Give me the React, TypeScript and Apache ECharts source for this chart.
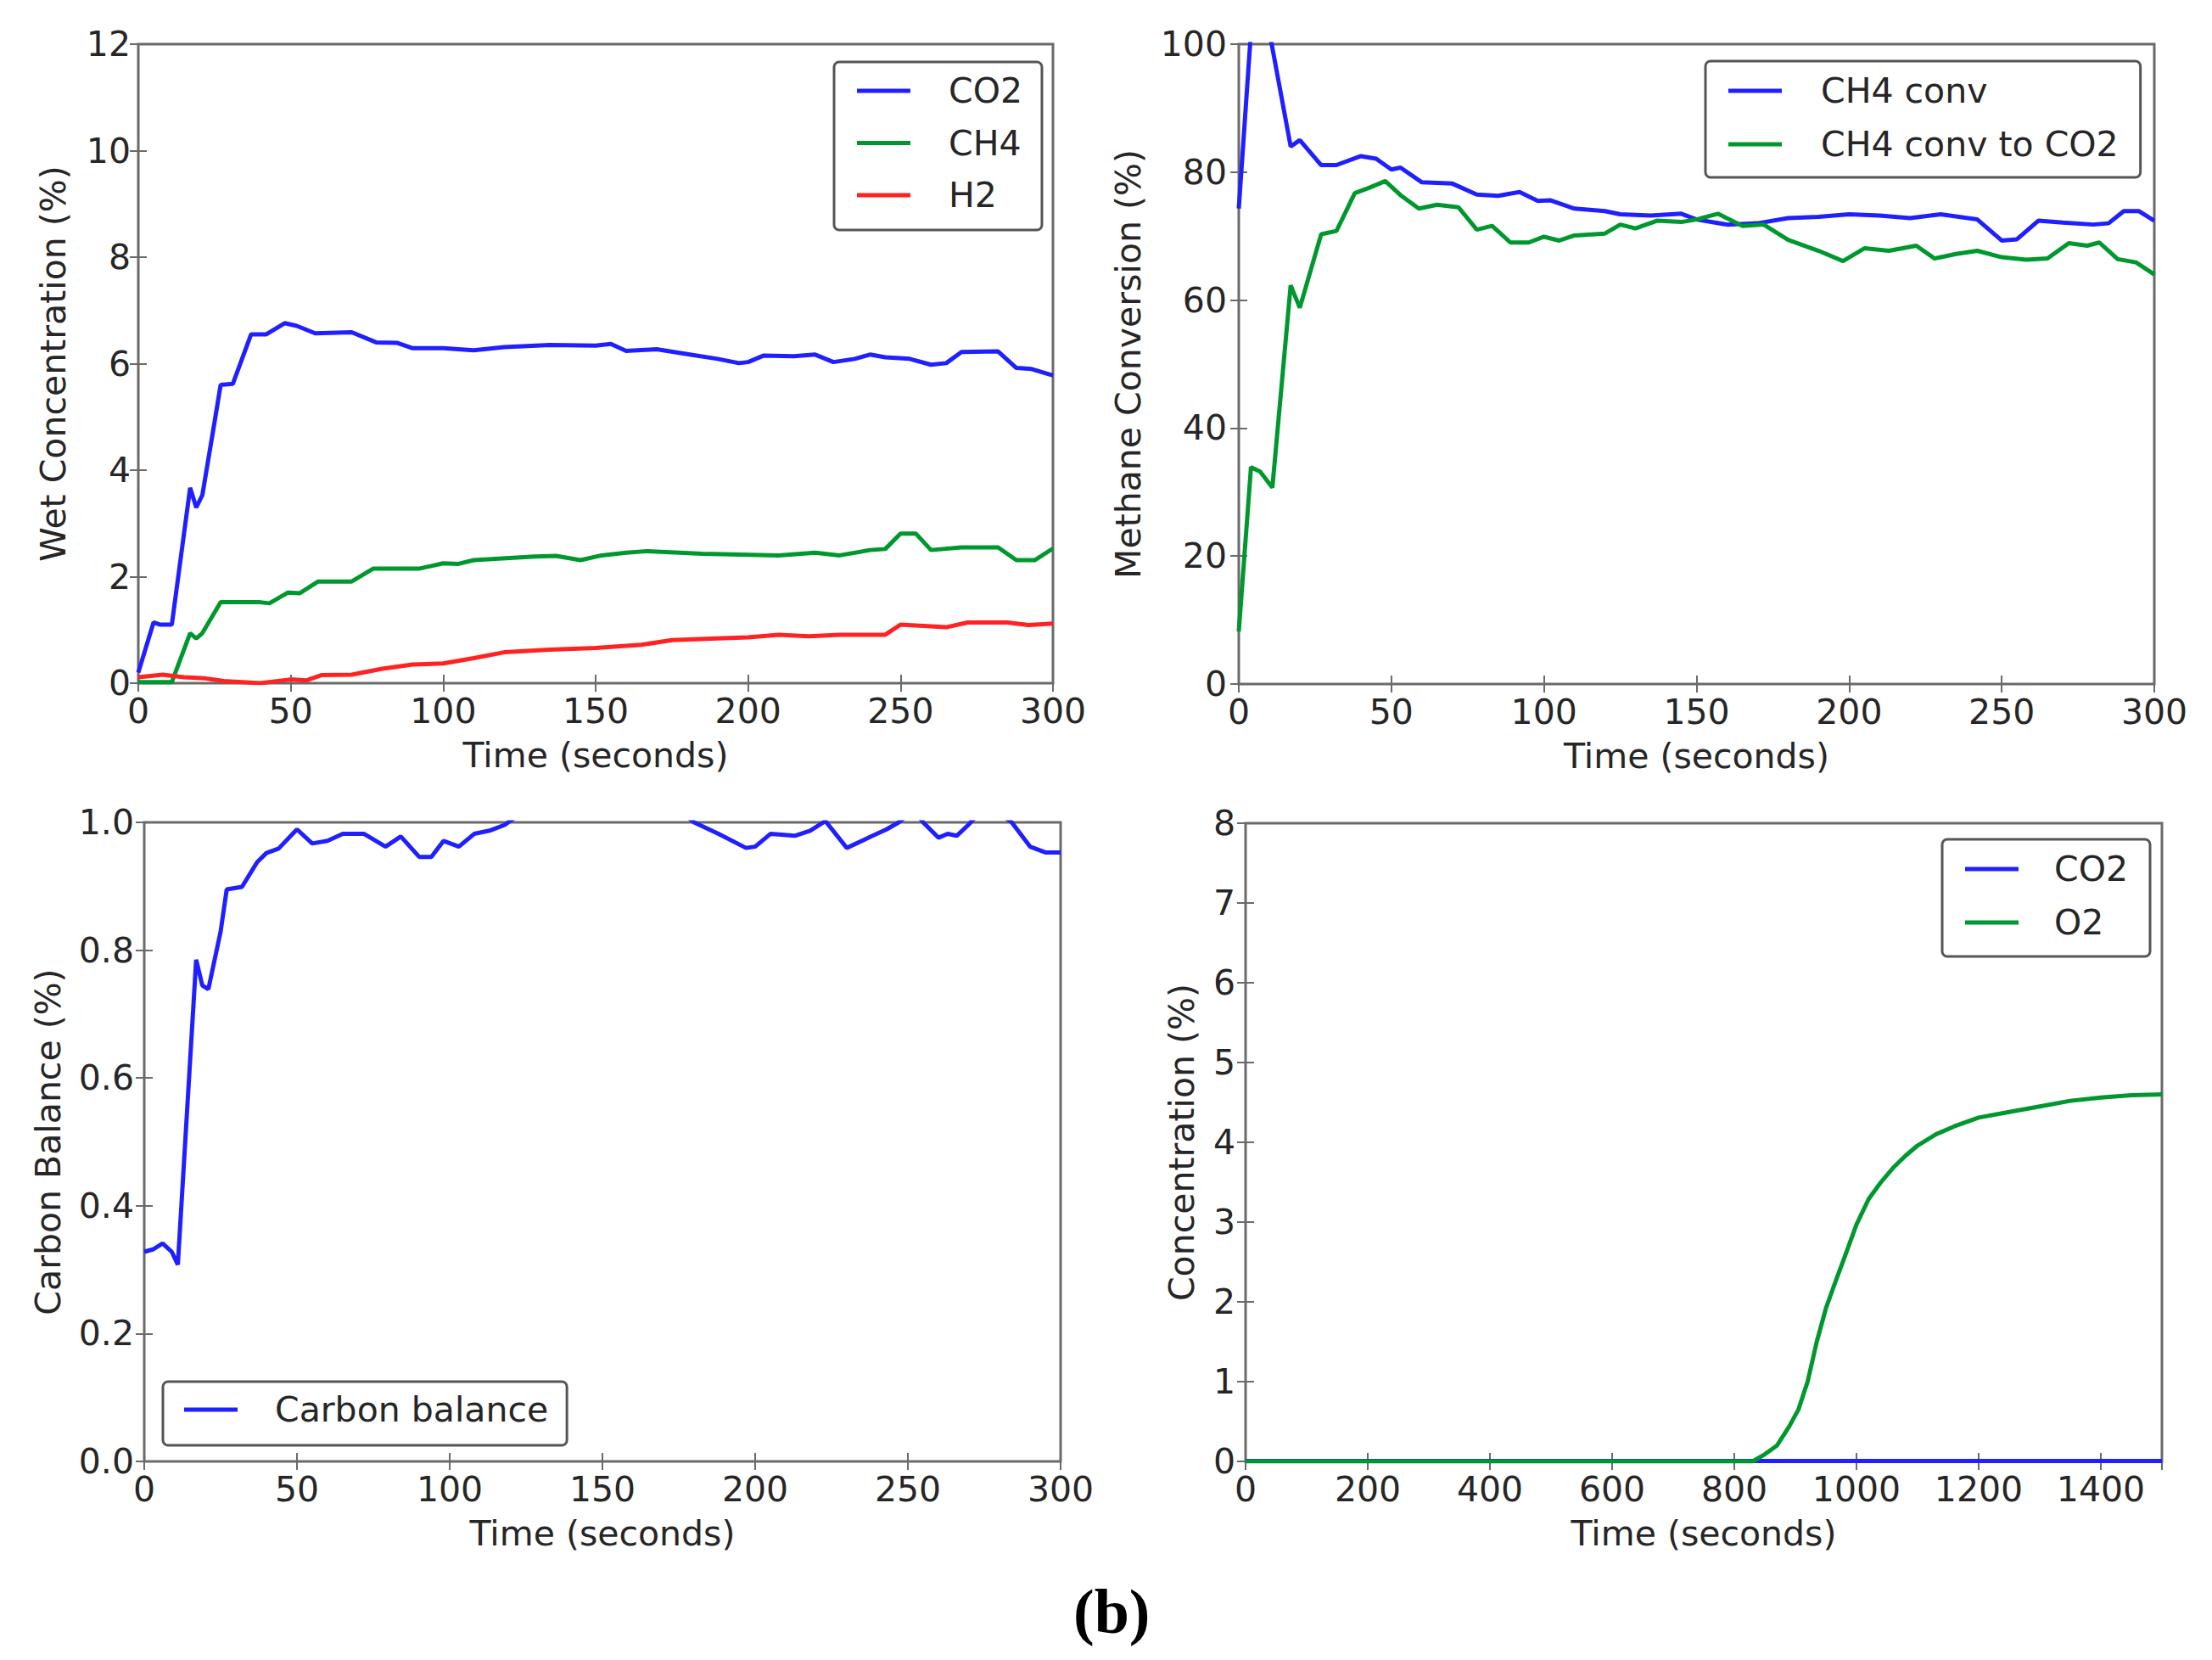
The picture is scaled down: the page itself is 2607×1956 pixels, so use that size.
import React, { useEffect, useRef } from "react";
import * as echarts from "echarts";

const FONT = "DejaVu Sans";
const BLUE = "#1f1fff";
const GREEN = "#00982e";
const RED = "#ff2222";
const FRAME = "#6a6a6a";
const TEXT = "#262626";

// ---- Panel 1: wet concentration ----
const co2Time = [0, 5, 7, 11, 17, 19, 21, 25, 27, 31, 37, 42, 48, 52, 58, 70, 78, 85, 90, 100, 110, 120, 135, 150, 155, 160, 170, 180, 190, 197, 200, 205, 215, 222, 228, 235, 240, 245, 253, 260, 265, 270, 282, 288, 293, 300];
const co2Wet = [0.2, 1.14, 1.1, 1.1, 3.67, 3.3, 3.53, 4.9, 5.6, 5.62, 6.55, 6.55, 6.76, 6.71, 6.57, 6.59, 6.4, 6.39, 6.29, 6.29, 6.25, 6.31, 6.35, 6.34, 6.37, 6.24, 6.27, 6.18, 6.09, 6.01, 6.03, 6.15, 6.14, 6.17, 6.03, 6.09, 6.17, 6.12, 6.09, 5.98, 6.01, 6.22, 6.23, 5.92, 5.9, 5.78];
const ch4Time = [0, 11, 17, 19, 21, 27, 40, 43, 49, 53, 59, 70, 77, 92, 100, 105, 110, 130, 137, 145, 152, 160, 167, 185, 210, 222, 230, 240, 245, 250, 255, 260, 270, 282, 288, 294, 300];
const ch4Wet = [0.02, 0.02, 0.94, 0.84, 0.94, 1.52, 1.52, 1.5, 1.7, 1.69, 1.91, 1.91, 2.15, 2.15, 2.25, 2.24, 2.31, 2.38, 2.39, 2.31, 2.4, 2.45, 2.48, 2.43, 2.4, 2.45, 2.4, 2.5, 2.52, 2.81, 2.81, 2.5, 2.55, 2.55, 2.31, 2.31, 2.53];
const h2Time = [0, 8, 15, 22, 28, 40, 50, 55, 60, 70, 80, 90, 100, 110, 120, 135, 150, 165, 175, 190, 200, 210, 220, 230, 245, 250, 265, 272, 285, 292, 300];
const h2Wet = [0.11, 0.16, 0.11, 0.09, 0.04, 0.0, 0.07, 0.05, 0.15, 0.16, 0.27, 0.35, 0.37, 0.47, 0.58, 0.63, 0.66, 0.72, 0.81, 0.84, 0.86, 0.91, 0.88, 0.91, 0.91, 1.1, 1.05, 1.14, 1.14, 1.09, 1.12];

// ---- Panel 2: methane conversion ----
const convTime = [0, 4, 10, 17, 20, 27, 32, 40, 45, 50, 53, 60, 70, 78, 85, 92, 98, 102, 110, 120, 125, 135, 145, 150, 160, 170, 180, 190, 200, 210, 220, 230, 242, 250, 255, 262, 270, 280, 285, 290, 295, 300];
const ch4Conv = [74.3, 102, 102, 84, 85, 81.1, 81.1, 82.5, 82.1, 80.4, 80.7, 78.4, 78.2, 76.5, 76.3, 76.9, 75.5, 75.6, 74.3, 73.9, 73.4, 73.2, 73.5, 72.6, 71.8, 72, 72.8, 73, 73.4, 73.2, 72.8, 73.4, 72.6, 69.3, 69.5, 72.4, 72.1, 71.8, 72, 73.9, 73.9, 72.4];
const conv2Time = [0, 4, 7, 11, 17, 20, 27, 32, 38, 43, 48, 53, 59, 65, 72, 78, 83, 89, 95, 100, 105, 110, 120, 125, 130, 137, 145, 150, 157, 165, 172, 180, 190, 198, 205, 213, 222, 228, 235, 242, 250, 258, 265, 272, 278, 282, 288, 294, 300];
const ch4ConvCo2 = [8.2, 33.9, 33.2, 30.7, 62.3, 58.8, 70.3, 70.8, 76.7, 77.6, 78.6, 76.4, 74.3, 74.9, 74.5, 71, 71.6, 69, 69, 69.9, 69.3, 70.1, 70.4, 71.8, 71.2, 72.4, 72.2, 72.6, 73.5, 71.6, 71.8, 69.4, 67.7, 66.1, 68.1, 67.7, 68.5, 66.5, 67.2, 67.7, 66.7, 66.3, 66.5, 68.9, 68.5, 69, 66.4, 65.9, 64];

// ---- Panel 3: carbon balance ----
const cbTime = [0, 3, 6, 9, 11, 17, 19, 21, 25, 27, 32, 37, 40, 44, 50, 55, 60, 65, 72, 79, 84, 90, 94, 98, 103, 108, 113, 118, 125, 150, 175, 180, 188, 197, 200, 205, 213, 218, 223, 230, 238, 243, 247, 252, 255, 260, 263, 266, 270, 276, 284, 290, 295, 300];
const carbonBalance = [0.328, 0.332, 0.341, 0.328, 0.308, 0.785, 0.745, 0.739, 0.829, 0.895, 0.899, 0.938, 0.952, 0.959, 0.989, 0.967, 0.971, 0.982, 0.982, 0.962, 0.978, 0.946, 0.946, 0.971, 0.962, 0.982, 0.987, 0.996, 1.02, 1.04, 1.02, 1.0, 0.982, 0.96, 0.962, 0.982, 0.979, 0.987, 1.002, 0.96, 0.978, 0.989, 1.0, 1.02, 1.0, 0.976, 0.982, 0.979, 0.997, 1.03, 1.0, 0.962, 0.953, 0.953];

// ---- Panel 4: concentration ----
const co2LateTime = [0, 1500];
const co2Late = [0.005, 0.005];
const o2Time = [0, 830, 850, 870, 890, 905, 920, 935, 950, 965, 980, 1000, 1020, 1040, 1060, 1080, 1100, 1130, 1160, 1200, 1250, 1300, 1350, 1400, 1450, 1500];
const o2Conc = [0, 0, 0.09, 0.2, 0.44, 0.65, 1.0, 1.5, 1.92, 2.24, 2.55, 2.97, 3.29, 3.5, 3.68, 3.83, 3.96, 4.1, 4.2, 4.31, 4.38, 4.45, 4.52, 4.56, 4.59, 4.6];

const zip = (t: number[], v: number[]) => t.map((x, i) => [x, v[i]]);

const tickStyle = { inside: true, length: 10, lineStyle: { color: FRAME, width: 2 } };

function makeAxes(
  g: number,
  x: { min: number; max: number; interval: number; gap: number; hideMax?: boolean },
  y: { min: number; max: number; interval: number; name: string; gap: number; margin: number; fmt?: (v: number) => string }
) {
  const xBase = {
    type: "value",
    gridIndex: g,
    min: x.min,
    max: x.max,
    interval: x.interval,
    axisLine: { show: false },
    splitLine: { show: false },
    axisTick: tickStyle,
  };
  const yBase = {
    type: "value",
    gridIndex: g,
    min: y.min,
    max: y.max,
    interval: y.interval,
    axisLine: { show: false },
    splitLine: { show: false },
    axisTick: tickStyle,
  };
  const xAxes = [
    {
      ...xBase,
      position: "bottom",
      name: "Time (seconds)",
      nameLocation: "middle",
      nameGap: x.gap,
      nameTextStyle: { fontFamily: FONT, fontSize: 41, color: TEXT },
      axisLabel: {
        margin: 12,
        fontFamily: FONT,
        fontSize: 41,
        color: TEXT,
        showMaxLabel: !x.hideMax,
        formatter: (v: number) => String(v),
      },
    },
    { ...xBase, position: "top", axisLabel: { show: false } },
  ];
  const yAxes = [
    {
      ...yBase,
      position: "left",
      name: y.name,
      nameLocation: "middle",
      nameGap: y.gap,
      nameTextStyle: { fontFamily: FONT, fontSize: 41, color: TEXT },
      axisLabel: {
        margin: y.margin,
        fontFamily: FONT,
        fontSize: 41,
        color: TEXT,
        formatter: (v: number) => (y.fmt ? y.fmt(v) : String(v)),
      },
    },
    { ...yBase, position: "right", axisLabel: { show: false } },
  ];
  return { xAxes, yAxes };
}

function makeLegend(
  names: string[],
  left: number,
  top: number,
  padding: number[],
  itemGap: number,
  textPad: number
) {
  return {
    orient: "vertical",
    left,
    top,
    padding,
    itemGap,
    itemWidth: 63,
    itemHeight: 5,
    icon: "rect",
    selectedMode: false,
    backgroundColor: "#ffffff",
    borderColor: "#555555",
    borderWidth: 3,
    borderRadius: 6,
    data: names,
    textStyle: { fontFamily: FONT, fontSize: 41, lineHeight: 42, color: TEXT, padding: [0, 0, 0, textPad] },
  };
}

function line(name: string, g: number, data: number[][], color: string) {
  return {
    type: "line",
    name,
    xAxisIndex: g * 2,
    yAxisIndex: g * 2,
    data,
    showSymbol: false,
    symbol: "none",
    clip: true,
    lineStyle: { width: 5, color },
    itemStyle: { color },
    emphasis: { disabled: true },
  };
}

export default function App() {
  const ref = useRef<HTMLDivElement>(null);

  useEffect(() => {
    if (!ref.current) return;
    const chart = echarts.init(ref.current, undefined, { renderer: "svg" });

    const a0 = makeAxes(0, { min: 0, max: 300, interval: 50, gap: 64 }, { min: 0, max: 12, interval: 2, name: "Wet Concentration (%)", gap: 80, margin: 9 });
    const a1 = makeAxes(1, { min: 0, max: 300, interval: 50, gap: 64 }, { min: 0, max: 100, interval: 20, name: "Methane Conversion (%)", gap: 110, margin: 14 });
    const a2 = makeAxes(2, { min: 0, max: 300, interval: 50, gap: 64 }, { min: 0, max: 1, interval: 0.2, name: "Carbon Balance (%)", gap: 93, margin: 12, fmt: (v) => v.toFixed(1) });
    const a3 = makeAxes(3, { min: 0, max: 1500, interval: 200, gap: 64, hideMax: true }, { min: 0, max: 8, interval: 1, name: "Concentration (%)", gap: 55, margin: 12 });

    const gridBase = { show: true, borderColor: FRAME, borderWidth: 3, backgroundColor: "transparent", containLabel: false };

    chart.setOption({
      animation: false,
      backgroundColor: "#ffffff",
      grid: [
        { ...gridBase, left: 163, top: 52, width: 1078, height: 753 },
        { ...gridBase, left: 1460, top: 52, width: 1079, height: 754 },
        { ...gridBase, left: 170, top: 969, width: 1080, height: 753 },
        { ...gridBase, left: 1468, top: 970, width: 1080, height: 752 },
      ],
      xAxis: [...a0.xAxes, ...a1.xAxes, ...a2.xAxes, ...a3.xAxes],
      yAxis: [...a0.yAxes, ...a1.yAxes, ...a2.yAxes, ...a3.yAxes],
      legend: [
        makeLegend(["CO2", "CH4", "H2"], 983, 73, [13, 23, 20, 27], 19.5, 40),
        makeLegend(["CH4 conv", "CH4 conv to CO2"], 2010, 72, [14, 26, 18, 27], 21, 41),
        makeLegend(["Carbon balance"], 192, 1628, [12, 22, 21, 25], 20, 39),
        makeLegend(["CO2", "O2"], 2289, 989, [14, 26, 19, 27], 21, 37),
      ],
      series: [
        line("CO2", 0, zip(co2Time, co2Wet), BLUE),
        line("CH4", 0, zip(ch4Time, ch4Wet), GREEN),
        line("H2", 0, zip(h2Time, h2Wet), RED),
        line("CH4 conv", 1, zip(convTime, ch4Conv), BLUE),
        line("CH4 conv to CO2", 1, zip(conv2Time, ch4ConvCo2), GREEN),
        line("Carbon balance", 2, zip(cbTime, carbonBalance), BLUE),
        line("CO2", 3, zip(co2LateTime, co2Late), BLUE),
        line("O2", 3, zip(o2Time, o2Conc), GREEN),
      ],
      graphic: [
        {
          type: "text",
          left: 1310 - 45,
          top: 1862,
          style: {
            text: "(b)",
            fill: "#000000",
            font: 'bold 74px "Liberation Serif", serif',
          },
        },
      ],
    });

    return () => chart.dispose();
  }, []);

  return (
    <div
      ref={ref}
      style={{ position: "absolute", left: 0, top: 0, width: 2607, height: 1956, background: "#ffffff" }}
    />
  );
}
